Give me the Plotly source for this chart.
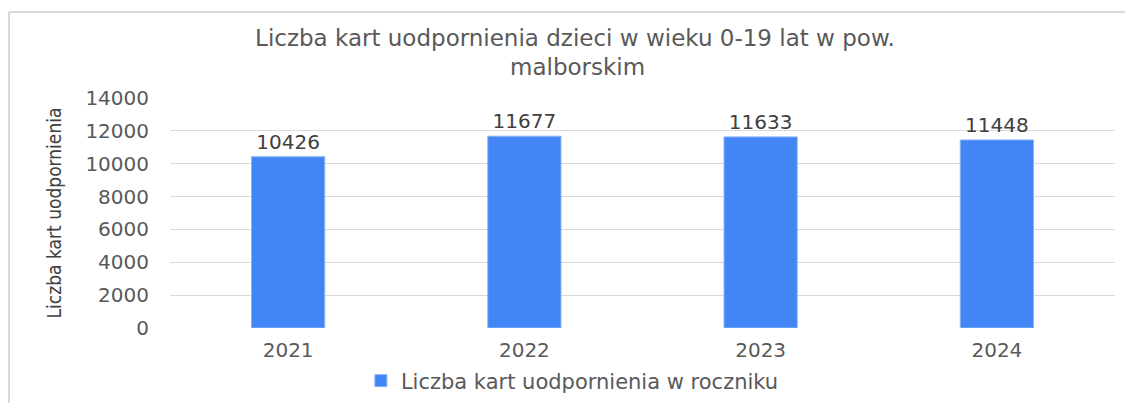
import plotly.graph_objects as go

years = ["2021", "2022", "2023", "2024"]
counts = [10426, 11677, 11633, 11448]
series_name = "Liczba kart uodpornienia w roczniku"
title_line1 = "Liczba kart uodpornienia dzieci w wieku 0-19 lat w pow."
title_line2 = "malborskim"
y_ticks = [0, 2000, 4000, 6000, 8000, 10000, 12000, 14000]

FONT = "DejaVu Sans, Liberation Sans, sans-serif"

fig = go.Figure()
fig.add_trace(go.Bar(
    x=years, y=counts, name=series_name,
    marker=dict(color="#4285F4", line=dict(color="#8AB4F8", width=1)),
    text=[str(v) for v in counts], textposition="outside",
    textfont=dict(size=20, color="#404040", family=FONT),
    cliponaxis=False,
))

# page body adds an 8px offset, so margins are shifted by 8px
fig.update_layout(
    width=1133, height=403,
    margin=dict(l=162, r=26, t=90, b=83, autoexpand=False),
    paper_bgcolor="white", plot_bgcolor="white",
    font=dict(family=FONT, color="#595959"),
    title=dict(
        text=title_line1, xref="container", x=567 / 1133, xanchor="center",
        yref="container", y=1 - 30 / 403, yanchor="middle",
        font=dict(size=23, color="#595959"),
    ),
    annotations=[dict(
        text=title_line2, xref="paper", yref="paper", x=0.4317, y=1 + 31 / 230,
        xanchor="center", yanchor="middle", showarrow=False,
        font=dict(size=23, color="#595959"),
    )],
    bargap=0.69,
    showlegend=True,
    legend=dict(orientation="h", x=0.202, xanchor="left", y=-53 / 230, yanchor="middle",
                font=dict(size=21, color="#595959")),
    xaxis=dict(showgrid=False, showline=False, ticks="", automargin=False,
               ticklabelstandoff=8, tickfont=dict(size=20, color="#595959")),
    yaxis=dict(
        range=[0, 14000], tickvals=y_ticks, tickformat="d", gridcolor="#d9d9d9", zeroline=False,
        showline=False, ticks="", automargin=False, tickfont=dict(size=20, color="#595959"),
        ticklabelstandoff=20,
        title=dict(text="Liczba kart uodpornienia", standoff=18,
                   font=dict(size=19, color="#404040",
                             family="Liberation Sans Narrow, DejaVu Sans Condensed, Liberation Sans, sans-serif")),
    ),
    shapes=[
        dict(type="line", xref="paper", yref="paper", x0=-161 / 945, x1=1.1, y0=1 + 86 / 230, y1=1 + 86 / 230,
             line=dict(color="#d9d9d9", width=2)),
        dict(type="line", xref="paper", yref="paper", x0=-161 / 945, x1=-161 / 945, y0=1 + 86 / 230, y1=-0.4,
             line=dict(color="#d9d9d9", width=2)),
    ],
)

fig.write_html("out.html")
